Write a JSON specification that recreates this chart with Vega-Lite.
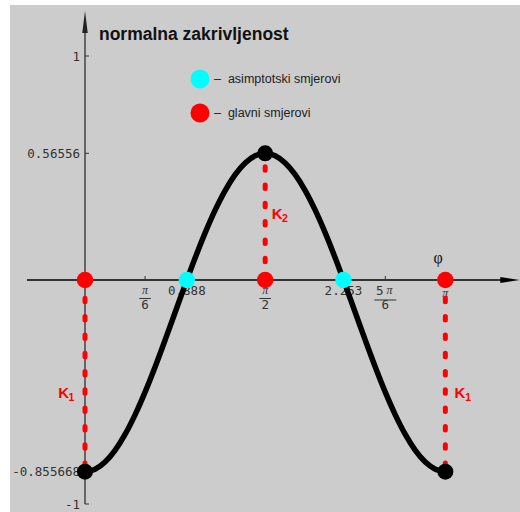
{
  "$schema": "https://vega.github.io/schema/vega-lite/v6.json",
  "width": 510,
  "height": 507,
  "autosize": {"type": "none"},
  "padding": {"left": 10, "top": 5, "right": 0, "bottom": 0},
  "background": "white",
  "config": {"view": {"fill": "#cccccc", "stroke": null}},
  "datasets": {
    "krivulja": [
      {"phi": 0, "kn": -0.8557}, {"phi": 0.0873, "kn": -0.8449}, {"phi": 0.1745, "kn": -0.8128},
      {"phi": 0.2618, "kn": -0.7605}, {"phi": 0.3491, "kn": -0.6894}, {"phi": 0.4363, "kn": -0.6018},
      {"phi": 0.5236, "kn": -0.5004}, {"phi": 0.6109, "kn": -0.3881}, {"phi": 0.6981, "kn": -0.2685},
      {"phi": 0.7854, "kn": -0.1451}, {"phi": 0.8727, "kn": -0.0217}, {"phi": 0.9599, "kn": 0.098},
      {"phi": 1.0472, "kn": 0.2103}, {"phi": 1.1345, "kn": 0.3117}, {"phi": 1.2217, "kn": 0.3993},
      {"phi": 1.309, "kn": 0.4704}, {"phi": 1.3963, "kn": 0.5227}, {"phi": 1.4835, "kn": 0.5548},
      {"phi": 1.5708, "kn": 0.5656}, {"phi": 1.6581, "kn": 0.5548}, {"phi": 1.7453, "kn": 0.5227},
      {"phi": 1.8326, "kn": 0.4704}, {"phi": 1.9199, "kn": 0.3993}, {"phi": 2.0071, "kn": 0.3117},
      {"phi": 2.0944, "kn": 0.2103}, {"phi": 2.1817, "kn": 0.098}, {"phi": 2.2689, "kn": -0.0217},
      {"phi": 2.3562, "kn": -0.1451}, {"phi": 2.4435, "kn": -0.2685}, {"phi": 2.5307, "kn": -0.3881},
      {"phi": 2.618, "kn": -0.5004}, {"phi": 2.7053, "kn": -0.6018}, {"phi": 2.7925, "kn": -0.6894},
      {"phi": 2.8798, "kn": -0.7605}, {"phi": 2.9671, "kn": -0.8128}, {"phi": 3.0543, "kn": -0.8449},
      {"phi": 3.1416, "kn": -0.8557}
    ],
    "glavni": [
      {"phi": 0, "kn": -0.855668},
      {"phi": 1.5708, "kn": 0.56556},
      {"phi": 3.1416, "kn": -0.855668}
    ],
    "crtkano": [
      {"phi": 0, "kn": 0, "K": -0.855668},
      {"phi": 1.5708, "kn": 0, "K": 0.56556},
      {"phi": 3.1416, "kn": 0, "K": -0.855668}
    ],
    "smjerovi": [
      {"phi": 0.888, "kn": 0, "vrsta": "asimptotski smjerovi"},
      {"phi": 2.253, "kn": 0, "vrsta": "asimptotski smjerovi"},
      {"phi": 0, "kn": 0, "vrsta": "glavni smjerovi"},
      {"phi": 1.5708, "kn": 0, "vrsta": "glavni smjerovi"},
      {"phi": 3.1416, "kn": 0, "vrsta": "glavni smjerovi"}
    ],
    "os_x": [{"phi": -0.5057, "phi2": 3.7, "kn": 0}],
    "os_y": [{"phi": 0, "kn": -1, "kn2": 1.12}],
    "strelica_x": [{"phi": 3.7053, "kn": 0}],
    "strelica_y": [{"phi": 0, "kn": 1.1518}],
    "xcrtice": [
      {"phi": 0.5236, "kn": 0}, {"phi": 0.888, "kn": 0}, {"phi": 1.5708, "kn": 0},
      {"phi": 2.253, "kn": 0}, {"phi": 2.618, "kn": 0}, {"phi": 3.1416, "kn": 0}
    ],
    "xoznake": [
      {"phi": 0.888, "kn": 0, "oznaka": "0.888"},
      {"phi": 2.253, "kn": 0, "oznaka": "2.253"}
    ],
    "razlomci": [
      {"phi": 0.5236, "kn": 0, "nazivnik": "6", "sirina": "uska"},
      {"phi": 1.5708, "kn": 0, "nazivnik": "2", "sirina": "uska"},
      {"phi": 2.618, "kn": 0, "nazivnik": "6", "sirina": "siroka"}
    ],
    "brojnik_pi": [
      {"phi": 0.5236, "kn": 0}, {"phi": 1.5708, "kn": 0}, {"phi": 2.6556, "kn": 0}
    ],
    "brojnik_5": [{"phi": 2.5693, "kn": 0}],
    "oznaka_pi": [{"phi": 3.1416, "kn": 0}],
    "yoznake": [
      {"phi": 0, "kn": 1, "oznaka": "1"},
      {"phi": 0, "kn": 0.56556, "oznaka": "0.56556"},
      {"phi": 0, "kn": -0.855668, "oznaka": "-0.855668"},
      {"phi": 0, "kn": -1, "oznaka": "-1"}
    ],
    "naslov": [{"phi": 0.122, "kn": 1.0714, "tekst": "normalna zakrivljenost"}],
    "varijabla": [{"phi": 3.078, "kn": 0.0759, "tekst": "φ"}],
    "slova_K": [
      {"phi": -0.2328, "kn": -0.5268},
      {"phi": 1.6277, "kn": 0.271},
      {"phi": 3.2214, "kn": -0.5281}
    ],
    "indeksi_K": [
      {"phi": -0.1439, "kn": -0.5268, "indeks": "1"},
      {"phi": 1.7175, "kn": 0.271, "indeks": "2"},
      {"phi": 3.3147, "kn": -0.5281, "indeks": "1"}
    ]
  },
  "encoding": {
    "x": {"field": "phi", "type": "quantitative", "scale": {"domain": [-0.6539, 3.7925], "nice": false, "zero": false}, "axis": null},
    "y": {"field": "kn", "type": "quantitative", "scale": {"domain": [-1.0357, 1.2277], "nice": false, "zero": false}, "axis": null}
  },
  "layer": [
    {
      "data": {"name": "os_y"},
      "mark": {"type": "rule", "color": "#5a5a5a", "strokeWidth": 1.8},
      "encoding": {"y2": {"field": "kn2"}}
    },
    {
      "data": {"name": "os_x"},
      "mark": {"type": "rule", "color": "black", "strokeWidth": 1.5},
      "encoding": {"x2": {"field": "phi2"}}
    },
    {
      "data": {"name": "strelica_x"},
      "mark": {"type": "point", "shape": "M-1,-0.3L1,0L-1,0.3Z", "size": 376, "filled": true, "color": "black", "opacity": 1, "strokeWidth": 0}
    },
    {
      "data": {"name": "strelica_y"},
      "mark": {"type": "point", "shape": "M-0.25,1L0,-1L0.25,1Z", "size": 484, "filled": true, "color": "#222222", "opacity": 1, "strokeWidth": 0}
    },
    {
      "data": {"name": "xcrtice"},
      "mark": {"type": "point", "shape": "M0,0L0,-1", "size": 64, "filled": false, "color": "#333333", "strokeWidth": 1, "opacity": 1}
    },
    {
      "data": {"name": "yoznake"},
      "mark": {"type": "point", "shape": "M0,0L1,0", "size": 64, "filled": false, "color": "#333333", "strokeWidth": 1, "opacity": 1}
    },
    {
      "data": {"name": "yoznake"},
      "mark": {"type": "text", "font": "DejaVu Sans Mono", "fontSize": 12.5, "color": "#333333", "align": "right", "baseline": "alphabetic", "dx": -5, "dy": 4.5},
      "encoding": {"text": {"field": "oznaka"}}
    },
    {
      "data": {"name": "xoznake"},
      "mark": {"type": "text", "font": "DejaVu Sans Mono", "fontSize": 12.5, "color": "#333333", "align": "center", "baseline": "alphabetic", "dy": 15},
      "encoding": {"text": {"field": "oznaka"}}
    },
    {
      "data": {"name": "brojnik_pi"},
      "mark": {"type": "text", "text": "π", "font": "Liberation Serif", "fontStyle": "italic", "fontSize": 12, "color": "#333333", "align": "center", "baseline": "alphabetic", "dy": 13.5}
    },
    {
      "data": {"name": "brojnik_5"},
      "mark": {"type": "text", "text": "5", "font": "DejaVu Sans Mono", "fontSize": 12.5, "color": "#333333", "align": "center", "baseline": "alphabetic", "dy": 15}
    },
    {
      "data": {"name": "oznaka_pi"},
      "mark": {"type": "text", "text": "π", "font": "Liberation Serif", "fontStyle": "italic", "fontSize": 12, "color": "#333333", "align": "center", "baseline": "alphabetic", "dy": 17}
    },
    {
      "data": {"name": "razlomci"},
      "transform": [{"filter": "datum.sirina == 'uska'"}],
      "mark": {"type": "point", "shape": "M-1,0L1,0", "size": 132, "filled": false, "color": "#333333", "strokeWidth": 1, "opacity": 1, "yOffset": 18.5}
    },
    {
      "data": {"name": "razlomci"},
      "transform": [{"filter": "datum.sirina == 'siroka'"}],
      "mark": {"type": "point", "shape": "M-1,0L1,0", "size": 484, "filled": false, "color": "#333333", "strokeWidth": 1, "opacity": 1, "yOffset": 20}
    },
    {
      "data": {"name": "razlomci"},
      "mark": {"type": "text", "font": "DejaVu Sans Mono", "fontSize": 12.5, "color": "#333333", "align": "center", "baseline": "alphabetic", "dy": 29},
      "encoding": {"text": {"field": "nazivnik"}}
    },
    {
      "data": {"name": "crtkano"},
      "mark": {"type": "rule", "color": "#ff0000", "strokeWidth": 5, "strokeCap": "round", "strokeDash": [3.5, 14.8]},
      "encoding": {"y2": {"field": "K"}}
    },
    {
      "data": {"name": "krivulja"},
      "mark": {"type": "line", "color": "black", "strokeWidth": 5.5, "interpolate": "monotone", "strokeCap": "round"}
    },
    {
      "data": {"name": "glavni"},
      "mark": {"type": "circle", "color": "black", "size": 256, "opacity": 1}
    },
    {
      "data": {"name": "smjerovi"},
      "mark": {"type": "circle", "size": 272, "opacity": 1, "strokeWidth": 0},
      "encoding": {
        "color": {
          "field": "vrsta",
          "type": "nominal",
          "scale": {"domain": ["asimptotski smjerovi", "glavni smjerovi"], "range": ["#00ffff", "#ff0000"]},
          "legend": {
            "orient": "none",
            "legendX": 180.5,
            "legendY": 64.5,
            "title": null,
            "padding": 0,
            "symbolType": "circle",
            "symbolSize": 361,
            "symbolStrokeWidth": 0,
            "symbolOpacity": 1,
            "labelFont": "Liberation Sans",
            "labelFontSize": 12.5,
            "labelColor": "#222222",
            "labelOffset": 4.5,
            "rowPadding": 15,
            "labelExpr": "'–\u00a0\u00a0' + datum.label"
          }
        }
      }
    },
    {
      "data": {"name": "naslov"},
      "mark": {"type": "text", "font": "Liberation Sans", "fontWeight": "bold", "fontSize": 17.5, "color": "#111111", "align": "left", "baseline": "alphabetic"},
      "encoding": {"text": {"field": "tekst"}}
    },
    {
      "data": {"name": "varijabla"},
      "mark": {"type": "text", "font": "Liberation Serif", "fontSize": 16, "color": "#111111", "align": "center", "baseline": "alphabetic"},
      "encoding": {"text": {"field": "tekst"}}
    },
    {
      "data": {"name": "slova_K"},
      "mark": {"type": "text", "text": "K", "font": "Liberation Sans", "fontWeight": "bold", "fontSize": 15, "color": "#ff0000", "align": "left", "baseline": "alphabetic"}
    },
    {
      "data": {"name": "indeksi_K"},
      "mark": {"type": "text", "font": "Liberation Sans", "fontWeight": "bold", "fontSize": 10.5, "color": "#ff0000", "align": "left", "baseline": "alphabetic", "dy": 2.6},
      "encoding": {"text": {"field": "indeks"}}
    }
  ]
}
